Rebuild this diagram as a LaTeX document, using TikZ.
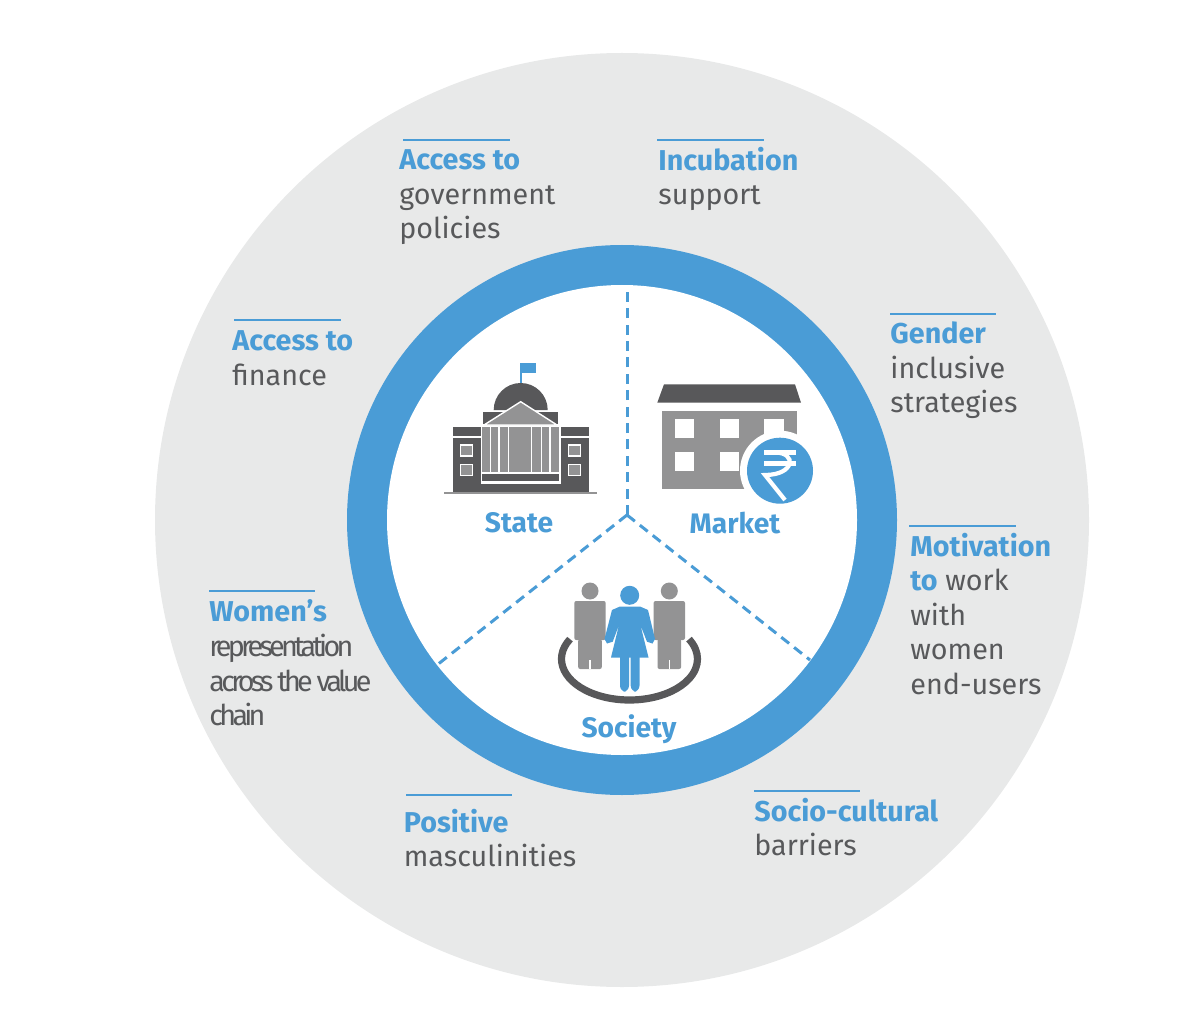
\documentclass[tikz,border=0pt]{standalone}
\usepackage{fontspec}
\setmainfont{Fira Sans}
\newfontfamily\tightfont[LetterSpace=-13]{Fira Sans}
\usetikzlibrary{calc}
\definecolor{ringblue}{HTML}{4A9CD6}
\definecolor{bandgrey}{HTML}{E8E9E9}
\definecolor{textgrey}{HTML}{58595B}
\definecolor{icondark}{HTML}{58585A}
\definecolor{iconmid}{HTML}{939394}
\newcommand{\hd}[1]{{\rmfamily\bfseries\color{ringblue}#1}}

\begin{document}
\begin{tikzpicture}[x=0.5pt,y=-0.5pt,
  label/.style={anchor=north west,inner sep=0,align=left,text=textgrey,font=\fontsize{14.35}{17.3}\selectfont},
  tight/.style={label,font=\fontsize{14.35}{17.3}\selectfont\tightfont},
  sector/.style={inner sep=0,text=ringblue,font=\fontsize{14.1}{17}\selectfont\bfseries},
  rule/.style={draw=ringblue,line width=0.6pt},
  divider/.style={draw=ringblue,line width=1.5pt,dash pattern=on 5pt off 3.2pt},
  dark/.style={fill=icondark,draw=none},
  mid/.style={fill=iconmid,draw=none},
  gap/.style={draw=white,line width=0.7pt}]
  \useasboundingbox (0,0) rectangle (1200,1032);
  % rings
  \fill[bandgrey] (622,520) circle (467);
  \fill[ringblue] (622,520) circle (275);
  \fill[white] (622,520) circle (235);
  % dividers
  \coordinate (hub) at (627,515);
  \coordinate (top end) at (627,292);
  \coordinate (left end) at (437,665);
  \coordinate (right end) at (810,660);
  \path[divider] (hub) -- (top end);
  \path[divider] (hub) -- (left end);
  \path[divider] (hub) -- (right end);
  % outer labels
  \node[label] (gov) at (399,149.5) {\hd{Access to}\\government\\policies};
  \node[label] (incub) at (658,146.5) {\hd{Incubation}\\support};
  \node[label] (gender) at (890,321.5) {\hd{Gender}\\inclusive\\strategies};
  \node[label] (motiv) at (910,532.5) {\hd{Motivation}\\\hd{to} work\\with\\women\\end-users};
  \node[label] (finance) at (232,330.5) {\hd{Access to}\\finance};
  \node[tight] (women) at (209,599.5) {\hd{Women's}\\representation\\across the value\\chain};
  \node[label] (masc) at (403.5,808.5) {\hd{Positive}\\masculinities};
  \node[label] (socio) at (754,797.5) {\hd{Socio-cultural}\\barriers};
  \path[rule] ($(gov.north west)+(4,-9.5)$) -- +(107,0);
  \path[rule] ($(incub.north west)+(-1,-6.5)$) -- +(107,0);
  \path[rule] ($(gender.north west)+(0,-7.5)$) -- +(106,0);
  \path[rule] ($(motiv.north west)+(-1,-6.5)$) -- +(107,0);
  \path[rule] ($(finance.north west)+(2,-10.5)$) -- +(107,0);
  \path[rule] ($(women.north west)+(0,-8.5)$) -- +(106,0);
  \path[rule] ($(masc.north west)+(2.5,-13.5)$) -- +(106,0);
  \path[rule] ($(socio.north west)+(0,-6.5)$) -- +(106,0);
  % sector names
  \node[sector] (state) at (519,523) {State};
  \node[sector] (market) at (735,523) {Market};
  \node[sector] (society) at (629,729) {Society};
  % state icon
  \fill[ringblue] (519.5,363) rectangle (536,373);
  \fill[ringblue] (519.5,363) rectangle (521.5,383);
  \fill[dark] (493.7,410) arc[start angle=180,end angle=360,radius=27];
  \fill[dark] (483,412) rectangle (558,424);
  \path[mid,gap,fill=iconmid] (520.7,401.7) -- (484,425) -- (557,425) -- cycle;
  \fill[mid] (482,427) rectangle (559,472);
  \foreach \x in {490.7,499,508.7,531.7,541.7,550}
    \draw[white,line width=0.7pt] (\x,427) -- (\x,472);
  \fill[dark] (482,473.5) rectangle (559,481);
  \path[dark,gap,fill=icondark] (474,492) -- (474,483) -- (567,483) -- (567,492);
  \foreach \x in {452.7,560.7}{
    \fill[dark] (\x,427) rectangle +(28,9);
    \fill[dark] (\x,438) rectangle +(28,54);
    \path[gap,fill=iconmid] ($(\x,445)+(7.5,0)$) rectangle +(12.5,11);
    \path[gap,fill=iconmid] ($(\x,464.5)+(7.5,0)$) rectangle +(12.5,11);
  }
  \fill[iconmid] (443.5,492) rectangle (597,493.5);
  % market icon
  \fill[dark] (664,384.3) -- (795,384.3) -- (801,402.7) -- (657.3,402.7) -- cycle;
  \fill[mid] (661.7,410.7) rectangle (796.7,489.3);
  \foreach \x in {675,719.7,764.3}
    \foreach \y in {419,452}
      \fill[white] (\x,\y) rectangle +(19.3,19.3);
  \fill[white] (780,470.7) circle (40);
  \fill[ringblue] (780,470.7) circle (33);
  \draw[white,line width=2.1pt] (764,452.5) -- (796,452.5);
  \draw[white,line width=2.1pt] (764,463.5) -- (796,463.5);
  \draw[white,line width=2.1pt] (775,452.5) .. controls (797,452.5) and (795,475) .. (765,475) -- (785,500);
  % society icon
  \draw[icondark,line width=3.6pt] (629.5,659) ++(209:68 and 41) arc[start angle=209,end angle=-29,x radius=68,y radius=41];
  \foreach \x in {590,669.3}{
    \fill[mid] (\x,591) circle (8.5);
    \fill[mid,rounded corners=1pt] ($(\x,601)+(-15.7,0)$) rectangle +(31.4,39);
    \fill[mid,rounded corners=1pt] ($(\x,640)+(-11.8,-1)$) rectangle +(23.6,30);
    \draw[white,line width=0.6pt] (\x,660) -- (\x,669);
  }
  \fill[ringblue] (629.7,595.3) circle (9.5);
  \fill[ringblue] (620,606.5) -- (640,606.5) -- (648,610) -- (655,639) -- (652.5,643.5) -- (647,641.7) -- (640.4,625) -- (648.5,657.5) -- (611,657.5) -- (619,625) -- (612.7,641.7) -- (607,643.5) -- (604.5,639) -- (612,610) -- cycle;
  \fill[ringblue,rounded corners=3pt] (620,650) rectangle (629,691.7);
  \fill[ringblue,rounded corners=3pt] (630.7,650) rectangle (639.5,691.7);
\end{tikzpicture}
\end{document}
